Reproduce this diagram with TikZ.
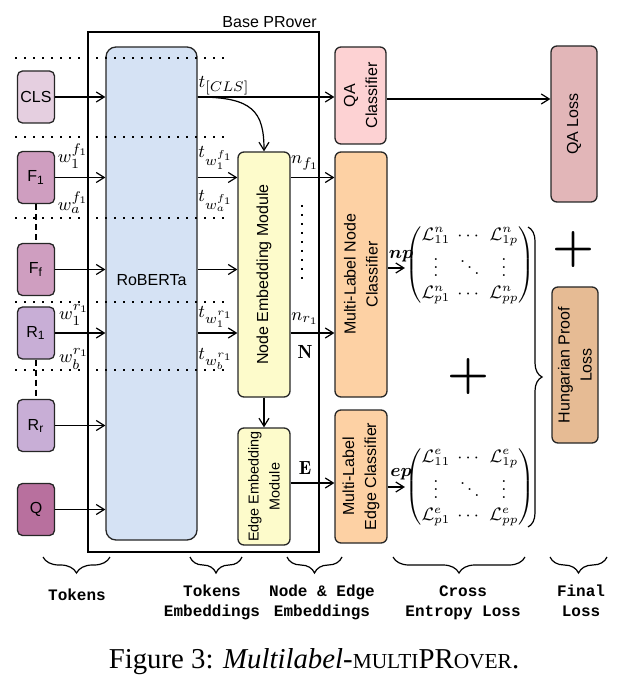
\documentclass[tikz,border=0pt]{standalone}
\usepackage{amsmath,amssymb}
\usepackage{fontspec}
\setsansfont{Liberation Sans}
\setmonofont{Liberation Mono}
\newfontfamily\capfont{Liberation Serif}
\usepackage{tikz}
\usetikzlibrary{positioning,arrows.meta,calc,decorations.pathreplacing}
\definecolor{clsc}{HTML}{E5CFE0}
\definecolor{factc}{HTML}{CF9EC0}
\definecolor{rulec}{HTML}{C8AED6}
\definecolor{qc}{HTML}{B8709E}
\definecolor{robc}{HTML}{D5E2F4}
\definecolor{embc}{HTML}{FDFBCB}
\definecolor{qacc}{HTML}{FDD2D3}
\definecolor{clfc}{HTML}{FDD1A4}
\definecolor{qalc}{HTML}{E2B6B8}
\definecolor{hplc}{HTML}{E6BB94}
\newcommand{\fakesc}[1]{{\fontsize{10.7}{12}\selectfont #1}}

\begin{document}
\begin{tikzpicture}[x=0.5pt, y=-0.5pt,
  box/.style={draw=black!85, line width=0.65pt, rounded corners=2.5pt, align=center, inner sep=0pt,
              font=\sffamily\fontsize{8}{11}\selectfont, fill=#1},
  box/.default=white,
  tok/.style={box=#1, minimum width=18.5pt, minimum height=26pt},
  vbox/.style={box=#1, rotate=90, rounded corners=3pt},
  arrow/.style={-{Straight Barb[length=4pt,width=5pt]}, line width=0.6pt},
  lab/.style={font=\fontsize{9.5}{10}\selectfont, inner sep=0pt},
  dots/.style={line width=1pt, dash pattern=on 1pt off 3.5pt},
  brc/.style={decorate, decoration={brace, amplitude=#1}, line width=0.6pt},
  brc/.default=8pt,
  bot/.style={font=\ttfamily\bfseries\fontsize{8}{10}\selectfont, align=center, anchor=north, inner sep=0pt}]
\useasboundingbox (0,0) rectangle (623,688);

% base prover frame
\node[draw, line width=1.1pt, minimum width=115.5pt, minimum height=260pt, inner sep=0pt] (base) at (203.5,292) {};
\node[font=\sffamily\fontsize{8}{9}\selectfont, anchor=south east, inner sep=1.5pt] (baselab) at (base.north east) {Base PRover};

% tokens
\node[tok=clsc] (cls) at (36,97) {CLS};
\node[tok=factc] (f1) at (36,177.5) {F\textsubscript{1}};
\node[tok=factc] (ff) at (36,269.5) {F\textsubscript{f}};
\node[tok=rulec] (r1) at (36,333) {R\textsubscript{1}};
\node[tok=rulec] (rr) at (36,425.5) {R\textsubscript{r}};
\node[tok=qc] (q) at (36,509.5) {Q};

% encoder and modules (rotated: north = page left, south = page right)
\node[box=robc, rounded corners=5pt, minimum width=45.5pt, minimum height=246.5pt] (rob) at (151.5,293.5) {};
\node[font=\sffamily\fontsize{8}{9}\selectfont] (roblab) at (151.5,280) {RoBERTa};
\node[vbox=embc, minimum width=122.5pt, minimum height=26pt] (nem) at (264,274.5) {Node Embedding Module};
\node[vbox=embc, minimum width=58.5pt, minimum height=26pt, font=\sffamily\fontsize{7.2}{10.5}\selectfont] (eem) at (264,486.5) {Edge Embedding\\Module};
\node[vbox=qacc, minimum width=48.5pt, minimum height=25.5pt] (qac) at (360.5,95.5) {QA\\Classifier};
\node[vbox=clfc, minimum width=122.5pt, minimum height=26pt] (ncl) at (361,274.5) {Multi-Label Node\\Classifier};
\node[vbox=clfc, minimum width=66.5pt, minimum height=26pt] (ecl) at (361,476.5) {Multi-Label\\Edge Classifier};
\node[vbox=qalc, minimum width=78pt, minimum height=23pt] (qal) at (574,124) {QA Loss};
\node[vbox=hplc, minimum width=78pt, minimum height=23pt] (hpl) at (575,365) {Hungarian Proof\\Loss};

% loss matrices
\node[inner sep=0pt, font=\small] (nmat) at (470,265)
  {$\arraycolsep=1.8pt\begin{pmatrix} \mathcal{L}^n_{11} & \cdots & \mathcal{L}^n_{1p}\\ \vdots & \ddots & \vdots\\ \mathcal{L}^n_{p1} & \cdots & \mathcal{L}^n_{pp} \end{pmatrix}$};
\node[inner sep=0pt, font=\small] (emat) at (470,487)
  {$\arraycolsep=1.8pt\begin{pmatrix} \mathcal{L}^e_{11} & \cdots & \mathcal{L}^e_{1p}\\ \vdots & \ddots & \vdots\\ \mathcal{L}^e_{p1} & \cdots & \mathcal{L}^e_{pp} \end{pmatrix}$};
\node[font=\bfseries\fontsize{24}{24}\selectfont, inner sep=0pt] (plus1) at (573,250) {+};
\node[font=\bfseries\fontsize{24}{24}\selectfont, inner sep=0pt] (plus2) at (468,377) {+};

% separators
\foreach \yy in {58,137,218,302,370}
  \draw[dots] (15,\yy) -- (225,\yy);
\draw[dash pattern=on 3pt off 2pt, line width=0.6pt] (f1.south) -- (ff.north);
\draw[dash pattern=on 3pt off 2pt, line width=0.6pt] (r1.south) -- (rr.north);
\draw[dots] (302,205) -- (302,280);

% connectors
\foreach \t in {cls,f1,ff,r1,rr,q}
  \draw[arrow] (\t.east) -- (\t -| rob.west);
\draw[arrow] (cls -| rob.east) -- (cls -| qac.north);
\draw[arrow] (cls -| rob.east) .. controls +(55,0) and +(0,-40) .. (nem.east);
\foreach \t in {f1,ff,r1}
  \draw[arrow] (\t -| rob.east) -- (\t -| nem.north);
\draw[arrow] (f1 -| nem.south) -- (f1 -| ncl.north);
\draw[arrow] (r1 -| nem.south) -- (r1 -| ncl.north);
\draw[arrow] (nem) -- (eem);
\draw[arrow] ([yshift=1.75pt]eem.south) -- ([yshift=1.75pt]eem.south -| ecl.north);
\draw[arrow] ([yshift=-1.75pt]qac.south) -- ([yshift=-1.75pt]qac.south -| qal.north);
\draw[arrow] ([yshift=-1.5pt]ncl.south |- nmat) -- ([yshift=-1.5pt]nmat.west);
\draw[arrow] (ecl.south |- emat) -- (emat.west);

% labels
\node[lab] (tcls) at (224,86) {$t_{[CLS]}$};
\node[lab] (w1f) at (73,156) {$w_1^{f_1}$};
\node[lab] (waf) at (73,203) {$w_a^{f_1}$};
\node[lab] (w1r) at (74,315) {$w_1^{r_1}$};
\node[lab] (wbr) at (74,359) {$w_b^{r_1}$};
\node[lab] (tw1f) at (216,158) {$t_{w_1^{f_1}}$};
\node[lab] (twaf) at (216,201) {$t_{w_a^{f_1}}$};
\node[lab] (tw1r) at (216,317) {$t_{w_1^{r_1}}$};
\node[lab] (twbr) at (216,359) {$t_{w_b^{r_1}}$};
\node[lab] (nf1) at (305,163) {$n_{f_1}$};
\node[lab] (nr1) at (305,319) {$n_{r_1}$};
\node[lab] (nbf) at (305,352) {$\mathbf{N}$};
\node[lab] (ebf) at (305,468) {$\mathbf{E}$};
\node[lab] (np) at (401,256) {$\boldsymbol{np}$};
\node[lab] (ep) at (401,474) {$\boldsymbol{ep}$};

% braces
\coordinate (btop) at (528,227);
\coordinate (bbot) at (528,527);
\draw[brc=7pt] (btop) -- (bbot);
\foreach \a/\b/\n in {43/110/1,190/242/2,287/342/3,393/525/4,550/607/5} {
  \coordinate (bl\n) at (\a,557);
  \coordinate (br\n) at (\b,557);
  \draw[brc] (br\n) -- (bl\n);
}
\node[bot] (ltok) at (77,588) {Tokens};
\node[bot] (ltemb) at (212,585) {Tokens\\Embeddings};
\node[bot] (lne) at (322,585) {Node \& Edge\\Embeddings};
\node[bot] (lce) at (463,585) {Cross\\Entropy Loss};
\node[bot] (lfl) at (581,585) {Final\\Loss};

\node[font=\capfont\fontsize{14.4}{16}\selectfont] (capt) at (314,662)
  {Figure 3: \textit{Multilabel}-\fakesc{MULTI}PR\fakesc{OVER}.};
\end{tikzpicture}
\end{document}
